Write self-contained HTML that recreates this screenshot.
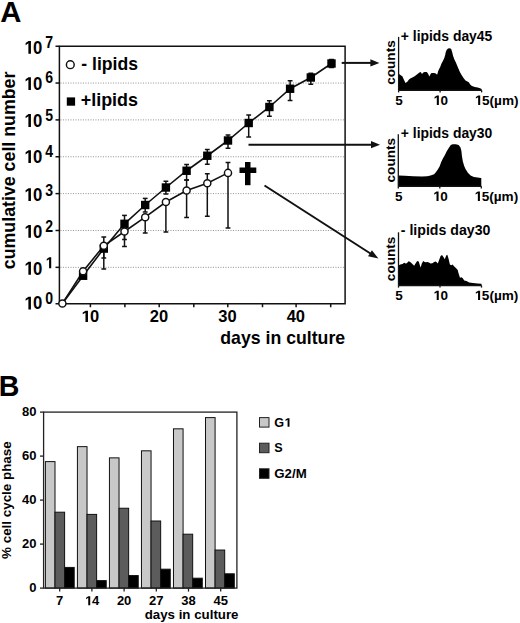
<!DOCTYPE html>
<html><head><meta charset="utf-8"><style>
html,body{margin:0;padding:0;background:#fff;overflow:hidden;width:520px;height:623px;}
svg{display:block;}
</style></head><body>
<svg width="520" height="623" viewBox="0 0 520 623">
<rect width="520" height="623" fill="#fff"/>
<text x="0.3" y="21.8" font-family="'Liberation Sans', sans-serif" font-weight="bold" font-size="29.3">A</text>
<line x1="60.4" y1="267.34" x2="344.1" y2="267.34" stroke="#9a9a9a" stroke-width="1" stroke-dasharray="1.1 1.4"/>
<line x1="60.4" y1="230.48" x2="344.1" y2="230.48" stroke="#9a9a9a" stroke-width="1" stroke-dasharray="1.1 1.4"/>
<line x1="60.4" y1="193.62" x2="344.1" y2="193.62" stroke="#9a9a9a" stroke-width="1" stroke-dasharray="1.1 1.4"/>
<line x1="60.4" y1="156.76" x2="344.1" y2="156.76" stroke="#9a9a9a" stroke-width="1" stroke-dasharray="1.1 1.4"/>
<line x1="60.4" y1="119.90" x2="344.1" y2="119.90" stroke="#9a9a9a" stroke-width="1" stroke-dasharray="1.1 1.4"/>
<line x1="60.4" y1="83.04" x2="344.1" y2="83.04" stroke="#9a9a9a" stroke-width="1" stroke-dasharray="1.1 1.4"/>
<rect x="59.4" y="46.25" width="285.70" height="257.50" fill="none" stroke="#111" stroke-width="1.5"/>
<line x1="55.5" y1="303.75" x2="59.4" y2="303.75" stroke="#111" stroke-width="1.5"/>
<g transform="translate(42.40 309.45) scale(0.9 1)"><text x="-20.69" y="0" font-family="'Liberation Sans', sans-serif" font-weight="bold" font-size="18.6"> 0</text><path transform="translate(-20.69 0) scale(0.00908 -0.00908)" d="M565,0L565,1160L225,950L225,1185L585,1409L875,1409L875,0Z"/></g>
<g transform="translate(45.20 303.65) scale(0.88 1)"><text x="0.00" y="0" font-family="'Liberation Sans', sans-serif" font-weight="bold" font-size="16.0">0</text></g>
<line x1="55.5" y1="267.34" x2="59.4" y2="267.34" stroke="#111" stroke-width="1.5"/>
<g transform="translate(42.40 274.64) scale(0.9 1)"><text x="-20.69" y="0" font-family="'Liberation Sans', sans-serif" font-weight="bold" font-size="18.6"> 0</text><path transform="translate(-20.69 0) scale(0.00908 -0.00908)" d="M565,0L565,1160L225,950L225,1185L585,1409L875,1409L875,0Z"/></g>
<g transform="translate(45.20 268.24) scale(0.88 1)"><text x="0.00" y="0" font-family="'Liberation Sans', sans-serif" font-weight="bold" font-size="16.0"> </text><path transform="translate(0.00 0) scale(0.00781 -0.00781)" d="M565,0L565,1160L225,950L225,1185L585,1409L875,1409L875,0Z"/></g>
<line x1="55.5" y1="230.48" x2="59.4" y2="230.48" stroke="#111" stroke-width="1.5"/>
<g transform="translate(42.40 237.68) scale(0.9 1)"><text x="-20.69" y="0" font-family="'Liberation Sans', sans-serif" font-weight="bold" font-size="18.6"> 0</text><path transform="translate(-20.69 0) scale(0.00908 -0.00908)" d="M565,0L565,1160L225,950L225,1185L585,1409L875,1409L875,0Z"/></g>
<g transform="translate(45.20 231.58) scale(0.88 1)"><text x="0.00" y="0" font-family="'Liberation Sans', sans-serif" font-weight="bold" font-size="16.0">2</text></g>
<line x1="55.5" y1="193.62" x2="59.4" y2="193.62" stroke="#111" stroke-width="1.5"/>
<g transform="translate(42.40 201.12) scale(0.9 1)"><text x="-20.69" y="0" font-family="'Liberation Sans', sans-serif" font-weight="bold" font-size="18.6"> 0</text><path transform="translate(-20.69 0) scale(0.00908 -0.00908)" d="M565,0L565,1160L225,950L225,1185L585,1409L875,1409L875,0Z"/></g>
<g transform="translate(45.20 195.62) scale(0.88 1)"><text x="0.00" y="0" font-family="'Liberation Sans', sans-serif" font-weight="bold" font-size="16.0">3</text></g>
<line x1="55.5" y1="156.76" x2="59.4" y2="156.76" stroke="#111" stroke-width="1.5"/>
<g transform="translate(42.40 163.06) scale(0.9 1)"><text x="-20.69" y="0" font-family="'Liberation Sans', sans-serif" font-weight="bold" font-size="18.6"> 0</text><path transform="translate(-20.69 0) scale(0.00908 -0.00908)" d="M565,0L565,1160L225,950L225,1185L585,1409L875,1409L875,0Z"/></g>
<g transform="translate(45.20 157.06) scale(0.88 1)"><text x="0.00" y="0" font-family="'Liberation Sans', sans-serif" font-weight="bold" font-size="16.0">4</text></g>
<line x1="55.5" y1="119.90" x2="59.4" y2="119.90" stroke="#111" stroke-width="1.5"/>
<g transform="translate(42.40 126.90) scale(0.9 1)"><text x="-20.69" y="0" font-family="'Liberation Sans', sans-serif" font-weight="bold" font-size="18.6"> 0</text><path transform="translate(-20.69 0) scale(0.00908 -0.00908)" d="M565,0L565,1160L225,950L225,1185L585,1409L875,1409L875,0Z"/></g>
<g transform="translate(45.20 121.20) scale(0.88 1)"><text x="0.00" y="0" font-family="'Liberation Sans', sans-serif" font-weight="bold" font-size="16.0">5</text></g>
<line x1="55.5" y1="83.04" x2="59.4" y2="83.04" stroke="#111" stroke-width="1.5"/>
<g transform="translate(42.40 90.04) scale(0.9 1)"><text x="-20.69" y="0" font-family="'Liberation Sans', sans-serif" font-weight="bold" font-size="18.6"> 0</text><path transform="translate(-20.69 0) scale(0.00908 -0.00908)" d="M565,0L565,1160L225,950L225,1185L585,1409L875,1409L875,0Z"/></g>
<g transform="translate(45.20 83.24) scale(0.88 1)"><text x="0.00" y="0" font-family="'Liberation Sans', sans-serif" font-weight="bold" font-size="16.0">6</text></g>
<line x1="55.5" y1="46.25" x2="59.4" y2="46.25" stroke="#111" stroke-width="1.5"/>
<g transform="translate(42.40 53.85) scale(0.9 1)"><text x="-20.69" y="0" font-family="'Liberation Sans', sans-serif" font-weight="bold" font-size="18.6"> 0</text><path transform="translate(-20.69 0) scale(0.00908 -0.00908)" d="M565,0L565,1160L225,950L225,1185L585,1409L875,1409L875,0Z"/></g>
<g transform="translate(45.20 48.45) scale(0.88 1)"><text x="0.00" y="0" font-family="'Liberation Sans', sans-serif" font-weight="bold" font-size="16.0">7</text></g>
<line x1="90.40" y1="303.75" x2="90.40" y2="307.25" stroke="#111" stroke-width="1.5"/>
<line x1="124.90" y1="303.75" x2="124.90" y2="307.25" stroke="#111" stroke-width="1.5"/>
<line x1="159.20" y1="303.75" x2="159.20" y2="307.25" stroke="#111" stroke-width="1.5"/>
<line x1="193.80" y1="303.75" x2="193.80" y2="307.25" stroke="#111" stroke-width="1.5"/>
<line x1="227.80" y1="303.75" x2="227.80" y2="307.25" stroke="#111" stroke-width="1.5"/>
<line x1="262.50" y1="303.75" x2="262.50" y2="307.25" stroke="#111" stroke-width="1.5"/>
<line x1="296.10" y1="303.75" x2="296.10" y2="307.25" stroke="#111" stroke-width="1.5"/>
<line x1="330.70" y1="303.75" x2="330.70" y2="307.25" stroke="#111" stroke-width="1.5"/>
<g transform="translate(90.10 322.00) scale(1.0 1)"><text x="-9.18" y="0" font-family="'Liberation Sans', sans-serif" font-weight="bold" font-size="16.5"> 0</text><path transform="translate(-9.18 0) scale(0.00806 -0.00806)" d="M565,0L565,1160L225,950L225,1185L585,1409L875,1409L875,0Z"/></g>
<g transform="translate(158.90 322.00) scale(1.0 1)"><text x="-9.18" y="0" font-family="'Liberation Sans', sans-serif" font-weight="bold" font-size="16.5">20</text></g>
<g transform="translate(227.50 322.00) scale(1.0 1)"><text x="-9.18" y="0" font-family="'Liberation Sans', sans-serif" font-weight="bold" font-size="16.5">30</text></g>
<g transform="translate(295.80 322.00) scale(1.0 1)"><text x="-9.18" y="0" font-family="'Liberation Sans', sans-serif" font-weight="bold" font-size="16.5">40</text></g>
<text x="282.7" y="344.2" font-family="'Liberation Sans', sans-serif" font-weight="bold" font-size="17.7" text-anchor="middle">days in culture</text>
<text transform="translate(14.6 170.4) rotate(-90)" font-family="'Liberation Sans', sans-serif" font-weight="bold" font-size="17.8" text-anchor="middle">cumulative cell number</text>
<line x1="103.80" y1="248.60" x2="103.80" y2="269.00" stroke="#111" stroke-width="1.5"/><line x1="101.40" y1="269.00" x2="106.20" y2="269.00" stroke="#111" stroke-width="1.5"/>
<line x1="124.50" y1="223.80" x2="124.50" y2="215.40" stroke="#111" stroke-width="1.5"/><line x1="122.10" y1="215.40" x2="126.90" y2="215.40" stroke="#111" stroke-width="1.5"/><line x1="124.50" y1="223.80" x2="124.50" y2="239.50" stroke="#111" stroke-width="1.5"/><line x1="122.10" y1="239.50" x2="126.90" y2="239.50" stroke="#111" stroke-width="1.5"/>
<line x1="145.20" y1="205.00" x2="145.20" y2="198.40" stroke="#111" stroke-width="1.5"/><line x1="142.80" y1="198.40" x2="147.60" y2="198.40" stroke="#111" stroke-width="1.5"/><line x1="145.20" y1="205.00" x2="145.20" y2="212.00" stroke="#111" stroke-width="1.5"/><line x1="142.80" y1="212.00" x2="147.60" y2="212.00" stroke="#111" stroke-width="1.5"/>
<line x1="165.90" y1="187.50" x2="165.90" y2="181.25" stroke="#111" stroke-width="1.5"/><line x1="163.50" y1="181.25" x2="168.30" y2="181.25" stroke="#111" stroke-width="1.5"/><line x1="165.90" y1="187.50" x2="165.90" y2="194.00" stroke="#111" stroke-width="1.5"/><line x1="163.50" y1="194.00" x2="168.30" y2="194.00" stroke="#111" stroke-width="1.5"/>
<line x1="186.60" y1="170.75" x2="186.60" y2="164.50" stroke="#111" stroke-width="1.5"/><line x1="184.20" y1="164.50" x2="189.00" y2="164.50" stroke="#111" stroke-width="1.5"/><line x1="186.60" y1="170.75" x2="186.60" y2="180.00" stroke="#111" stroke-width="1.5"/><line x1="184.20" y1="180.00" x2="189.00" y2="180.00" stroke="#111" stroke-width="1.5"/>
<line x1="207.30" y1="155.75" x2="207.30" y2="149.50" stroke="#111" stroke-width="1.5"/><line x1="204.90" y1="149.50" x2="209.70" y2="149.50" stroke="#111" stroke-width="1.5"/><line x1="207.30" y1="155.75" x2="207.30" y2="164.25" stroke="#111" stroke-width="1.5"/><line x1="204.90" y1="164.25" x2="209.70" y2="164.25" stroke="#111" stroke-width="1.5"/>
<line x1="228.00" y1="140.50" x2="228.00" y2="135.00" stroke="#111" stroke-width="1.5"/><line x1="225.60" y1="135.00" x2="230.40" y2="135.00" stroke="#111" stroke-width="1.5"/><line x1="228.00" y1="140.50" x2="228.00" y2="148.25" stroke="#111" stroke-width="1.5"/><line x1="225.60" y1="148.25" x2="230.40" y2="148.25" stroke="#111" stroke-width="1.5"/>
<line x1="248.70" y1="123.00" x2="248.70" y2="115.00" stroke="#111" stroke-width="1.5"/><line x1="246.30" y1="115.00" x2="251.10" y2="115.00" stroke="#111" stroke-width="1.5"/><line x1="248.70" y1="123.00" x2="248.70" y2="137.00" stroke="#111" stroke-width="1.5"/><line x1="246.30" y1="137.00" x2="251.10" y2="137.00" stroke="#111" stroke-width="1.5"/>
<line x1="269.40" y1="107.00" x2="269.40" y2="100.75" stroke="#111" stroke-width="1.5"/><line x1="267.00" y1="100.75" x2="271.80" y2="100.75" stroke="#111" stroke-width="1.5"/><line x1="269.40" y1="107.00" x2="269.40" y2="116.25" stroke="#111" stroke-width="1.5"/><line x1="267.00" y1="116.25" x2="271.80" y2="116.25" stroke="#111" stroke-width="1.5"/>
<line x1="290.10" y1="88.75" x2="290.10" y2="80.75" stroke="#111" stroke-width="1.5"/><line x1="287.70" y1="80.75" x2="292.50" y2="80.75" stroke="#111" stroke-width="1.5"/><line x1="290.10" y1="88.75" x2="290.10" y2="100.50" stroke="#111" stroke-width="1.5"/><line x1="287.70" y1="100.50" x2="292.50" y2="100.50" stroke="#111" stroke-width="1.5"/>
<line x1="310.80" y1="77.50" x2="310.80" y2="73.25" stroke="#111" stroke-width="1.5"/><line x1="308.40" y1="73.25" x2="313.20" y2="73.25" stroke="#111" stroke-width="1.5"/><line x1="310.80" y1="77.50" x2="310.80" y2="84.25" stroke="#111" stroke-width="1.5"/><line x1="308.40" y1="84.25" x2="313.20" y2="84.25" stroke="#111" stroke-width="1.5"/>
<line x1="331.50" y1="63.50" x2="331.50" y2="59.50" stroke="#111" stroke-width="1.5"/><line x1="329.10" y1="59.50" x2="333.90" y2="59.50" stroke="#111" stroke-width="1.5"/><line x1="331.50" y1="63.50" x2="331.50" y2="67.50" stroke="#111" stroke-width="1.5"/><line x1="329.10" y1="67.50" x2="333.90" y2="67.50" stroke="#111" stroke-width="1.5"/>
<line x1="103.80" y1="245.75" x2="103.80" y2="237.00" stroke="#111" stroke-width="1.5"/><line x1="101.40" y1="237.00" x2="106.20" y2="237.00" stroke="#111" stroke-width="1.5"/><line x1="103.80" y1="245.75" x2="103.80" y2="258.00" stroke="#111" stroke-width="1.5"/><line x1="101.40" y1="258.00" x2="106.20" y2="258.00" stroke="#111" stroke-width="1.5"/>
<line x1="124.50" y1="231.50" x2="124.50" y2="246.50" stroke="#111" stroke-width="1.5"/><line x1="122.10" y1="246.50" x2="126.90" y2="246.50" stroke="#111" stroke-width="1.5"/>
<line x1="145.20" y1="217.20" x2="145.20" y2="233.00" stroke="#111" stroke-width="1.5"/><line x1="142.80" y1="233.00" x2="147.60" y2="233.00" stroke="#111" stroke-width="1.5"/>
<line x1="165.90" y1="202.00" x2="165.90" y2="232.00" stroke="#111" stroke-width="1.5"/><line x1="163.50" y1="232.00" x2="168.30" y2="232.00" stroke="#111" stroke-width="1.5"/>
<line x1="186.60" y1="190.50" x2="186.60" y2="180.00" stroke="#111" stroke-width="1.5"/><line x1="184.20" y1="180.00" x2="189.00" y2="180.00" stroke="#111" stroke-width="1.5"/><line x1="186.60" y1="190.50" x2="186.60" y2="217.50" stroke="#111" stroke-width="1.5"/><line x1="184.20" y1="217.50" x2="189.00" y2="217.50" stroke="#111" stroke-width="1.5"/>
<line x1="207.30" y1="183.25" x2="207.30" y2="173.75" stroke="#111" stroke-width="1.5"/><line x1="204.90" y1="173.75" x2="209.70" y2="173.75" stroke="#111" stroke-width="1.5"/><line x1="207.30" y1="183.25" x2="207.30" y2="216.25" stroke="#111" stroke-width="1.5"/><line x1="204.90" y1="216.25" x2="209.70" y2="216.25" stroke="#111" stroke-width="1.5"/>
<line x1="228.00" y1="172.90" x2="228.00" y2="162.50" stroke="#111" stroke-width="1.5"/><line x1="225.60" y1="162.50" x2="230.40" y2="162.50" stroke="#111" stroke-width="1.5"/><line x1="228.00" y1="172.90" x2="228.00" y2="228.00" stroke="#111" stroke-width="1.5"/><line x1="225.60" y1="228.00" x2="230.40" y2="228.00" stroke="#111" stroke-width="1.5"/>
<polyline fill="none" stroke="#111" stroke-width="1.6" points="62.40,303.50 83.10,275.75 103.80,248.60 124.50,223.80 145.20,205.00 165.90,187.50 186.60,170.75 207.30,155.75 228.00,140.50 248.70,123.00 269.40,107.00 290.10,88.75 310.80,77.50 331.50,63.50"/>
<polyline fill="none" stroke="#111" stroke-width="1.6" points="62.40,303.50 83.10,271.25 103.80,245.75 124.50,231.50 145.20,217.20 165.90,202.00 186.60,190.50 207.30,183.25 228.00,172.90"/>
<rect x="78.90" y="271.55" width="8.4" height="8.4" fill="#000"/>
<rect x="99.60" y="244.40" width="8.4" height="8.4" fill="#000"/>
<rect x="120.30" y="219.60" width="8.4" height="8.4" fill="#000"/>
<rect x="141.00" y="200.80" width="8.4" height="8.4" fill="#000"/>
<rect x="161.70" y="183.30" width="8.4" height="8.4" fill="#000"/>
<rect x="182.40" y="166.55" width="8.4" height="8.4" fill="#000"/>
<rect x="203.10" y="151.55" width="8.4" height="8.4" fill="#000"/>
<rect x="223.80" y="136.30" width="8.4" height="8.4" fill="#000"/>
<rect x="244.50" y="118.80" width="8.4" height="8.4" fill="#000"/>
<rect x="265.20" y="102.80" width="8.4" height="8.4" fill="#000"/>
<rect x="285.90" y="84.55" width="8.4" height="8.4" fill="#000"/>
<rect x="306.60" y="73.30" width="8.4" height="8.4" fill="#000"/>
<rect x="327.30" y="59.30" width="8.4" height="8.4" fill="#000"/>
<circle cx="62.40" cy="303.50" r="3.55" fill="#fff" stroke="#111" stroke-width="1.45"/>
<circle cx="83.10" cy="271.25" r="3.55" fill="#fff" stroke="#111" stroke-width="1.45"/>
<circle cx="103.80" cy="245.75" r="3.55" fill="#fff" stroke="#111" stroke-width="1.45"/>
<circle cx="124.50" cy="231.50" r="3.55" fill="#fff" stroke="#111" stroke-width="1.45"/>
<circle cx="145.20" cy="217.20" r="3.55" fill="#fff" stroke="#111" stroke-width="1.45"/>
<circle cx="165.90" cy="202.00" r="3.55" fill="#fff" stroke="#111" stroke-width="1.45"/>
<circle cx="186.60" cy="190.50" r="3.55" fill="#fff" stroke="#111" stroke-width="1.45"/>
<circle cx="207.30" cy="183.25" r="3.55" fill="#fff" stroke="#111" stroke-width="1.45"/>
<circle cx="228.00" cy="172.90" r="3.55" fill="#fff" stroke="#111" stroke-width="1.45"/>
<circle cx="70.3" cy="64.7" r="3.9" fill="#fff" stroke="#111" stroke-width="1.45"/>
<text x="81.3" y="69.6" font-family="'Liberation Sans', sans-serif" font-weight="bold" font-size="17.6">- lipids</text>
<rect x="66.8" y="97.4" width="8.3" height="8.3" fill="#000"/>
<text x="80.8" y="106.4" font-family="'Liberation Sans', sans-serif" font-weight="bold" font-size="17.9">+lipids</text>
<rect x="245" y="162" width="5.5" height="23.2" fill="#000"/>
<rect x="239.5" y="167.5" width="16.8" height="5.5" fill="#000"/>
<line x1="341.7" y1="62.9" x2="371.40" y2="62.90" stroke="#111" stroke-width="2"/><polygon points="379.4,62.9 370.40,66.50 370.40,59.30" fill="#111"/>
<line x1="248.5" y1="144.7" x2="372.00" y2="144.70" stroke="#111" stroke-width="2"/><polygon points="380,144.7 371.00,148.30 371.00,141.10" fill="#111"/>
<line x1="264.5" y1="185.5" x2="370.83" y2="253.74" stroke="#111" stroke-width="2"/><polygon points="378.4,258.6 368.04,256.23 371.93,250.17" fill="#111"/>
<polygon fill="#000" points="398.60,90.20 399.00,73.90 400.80,75.20 402.50,76.50 403.80,79.50 405.50,83.00 407.30,81.70 409.00,79.50 410.70,78.20 412.90,77.30 415.00,76.00 417.20,74.30 419.40,72.60 420.70,72.10 422.00,73.90 423.30,72.60 424.60,71.90 426.70,71.90 428.00,73.40 429.30,76.50 430.60,73.90 431.50,73.00 434.10,73.00 435.80,73.40 437.10,74.70 438.40,70.50 439.50,68.20 440.20,67.10 441.50,63.40 442.90,61.10 444.30,57.90 445.20,55.10 445.70,52.30 446.60,50.00 448.00,48.60 449.90,48.20 451.20,49.10 452.20,52.30 453.10,56.00 454.50,59.70 455.90,62.50 457.20,65.70 458.60,68.90 460.00,72.20 461.90,75.40 463.70,78.20 465.50,80.50 467.40,81.40 468.80,82.30 470.20,84.60 472.00,86.00 474.80,86.90 477.60,87.40 479.40,87.90 481.20,88.80 481.70,89.70 481.60,89.70 481.60,90.20"/><line x1="398.6" y1="36.9" x2="398.6" y2="90.2" stroke="#111" stroke-width="1.3"/><line x1="398.6" y1="90.2" x2="481.6" y2="90.2" stroke="#111" stroke-width="1.5"/><line x1="398.60" y1="90.2" x2="398.60" y2="92.4" stroke="#111" stroke-width="1.3"/><line x1="440.10" y1="90.2" x2="440.10" y2="92.4" stroke="#111" stroke-width="1.3"/><line x1="481.60" y1="90.2" x2="481.60" y2="92.4" stroke="#111" stroke-width="1.3"/><text x="399.1" y="104.9" font-family="'Liberation Sans', sans-serif" font-weight="bold" font-size="13.5" text-anchor="middle">5</text><g transform="translate(440.60 104.90) scale(1.0 1)"><text x="-7.51" y="0" font-family="'Liberation Sans', sans-serif" font-weight="bold" font-size="13.5"> 0</text><path transform="translate(-7.51 0) scale(0.00659 -0.00659)" d="M565,0L565,1160L225,950L225,1185L585,1409L875,1409L875,0Z"/></g><g transform="translate(474.40 104.90) scale(1.0 1)"><text x="0.00" y="0" font-family="'Liberation Sans', sans-serif" font-weight="bold" font-size="13.6"> 5(µm)</text><path transform="translate(0.00 0) scale(0.00664 -0.00664)" d="M565,0L565,1160L225,950L225,1185L585,1409L875,1409L875,0Z"/></g><text transform="translate(394.6 62.55) rotate(-90)" font-family="'Liberation Sans', sans-serif" font-weight="bold" font-size="13.6" text-anchor="middle">counts</text><text x="400.8" y="40.8" font-family="'Liberation Sans', sans-serif" font-weight="bold" font-size="13.9">+ lipids day45</text>
<polygon fill="#000" points="398.30,186.20 398.60,175.50 404.70,175.70 413.30,176.20 422.00,176.50 427.20,176.20 430.60,175.50 434.10,174.20 436.00,171.90 437.80,169.50 439.70,166.30 441.10,162.20 442.90,158.50 444.80,155.20 446.60,151.50 448.90,147.80 450.80,145.10 452.60,144.20 455.90,144.20 458.60,145.10 460.50,147.40 461.40,151.10 461.90,155.70 462.80,161.20 464.20,165.90 465.50,169.10 467.90,172.80 470.60,175.50 473.90,176.90 477.60,177.40 480.80,177.90 481.30,177.90 481.30,186.20"/><line x1="398.3" y1="134.2" x2="398.3" y2="186.2" stroke="#111" stroke-width="1.3"/><line x1="398.3" y1="186.2" x2="481.3" y2="186.2" stroke="#111" stroke-width="1.5"/><line x1="398.30" y1="186.2" x2="398.30" y2="188.39999999999998" stroke="#111" stroke-width="1.3"/><line x1="439.80" y1="186.2" x2="439.80" y2="188.39999999999998" stroke="#111" stroke-width="1.3"/><line x1="481.30" y1="186.2" x2="481.30" y2="188.39999999999998" stroke="#111" stroke-width="1.3"/><text x="398.8" y="200.89999999999998" font-family="'Liberation Sans', sans-serif" font-weight="bold" font-size="13.5" text-anchor="middle">5</text><g transform="translate(440.30 200.90) scale(1.0 1)"><text x="-7.51" y="0" font-family="'Liberation Sans', sans-serif" font-weight="bold" font-size="13.5"> 0</text><path transform="translate(-7.51 0) scale(0.00659 -0.00659)" d="M565,0L565,1160L225,950L225,1185L585,1409L875,1409L875,0Z"/></g><g transform="translate(474.10 200.90) scale(1.0 1)"><text x="0.00" y="0" font-family="'Liberation Sans', sans-serif" font-weight="bold" font-size="13.6"> 5(µm)</text><path transform="translate(0.00 0) scale(0.00664 -0.00664)" d="M565,0L565,1160L225,950L225,1185L585,1409L875,1409L875,0Z"/></g><text transform="translate(394.6 160.20) rotate(-90)" font-family="'Liberation Sans', sans-serif" font-weight="bold" font-size="13.6" text-anchor="middle">counts</text><text x="400.8" y="137.9" font-family="'Liberation Sans', sans-serif" font-weight="bold" font-size="13.9">+ lipids day30</text>
<polygon fill="#000" points="398.50,285.40 399.00,265.30 400.30,264.50 402.50,263.90 404.20,262.70 405.50,263.40 406.80,263.20 408.60,261.30 410.30,261.90 411.60,263.20 412.90,264.50 414.20,265.80 415.50,263.60 417.20,261.00 418.70,261.50 419.80,264.90 420.70,267.50 421.80,263.60 423.30,261.00 424.60,261.90 425.90,262.30 427.60,261.90 429.30,262.70 430.60,263.60 432.40,263.20 434.10,261.90 435.80,261.50 436.90,262.50 437.80,263.50 439.20,259.80 440.60,256.10 442.00,255.00 443.40,257.00 444.80,259.30 446.20,255.60 447.30,254.70 448.50,258.40 449.90,264.40 451.20,265.30 452.60,264.60 454.00,266.20 455.90,267.90 457.70,269.90 458.60,273.60 460.00,277.80 461.40,277.30 462.80,278.20 464.20,280.50 466.50,281.00 469.20,282.40 472.90,283.00 477.60,283.60 481.20,283.80 481.50,283.80 481.50,285.40"/><line x1="398.5" y1="232.3" x2="398.5" y2="285.4" stroke="#111" stroke-width="1.3"/><line x1="398.5" y1="285.4" x2="481.5" y2="285.4" stroke="#111" stroke-width="1.5"/><line x1="398.50" y1="285.4" x2="398.50" y2="287.59999999999997" stroke="#111" stroke-width="1.3"/><line x1="440.00" y1="285.4" x2="440.00" y2="287.59999999999997" stroke="#111" stroke-width="1.3"/><line x1="481.50" y1="285.4" x2="481.50" y2="287.59999999999997" stroke="#111" stroke-width="1.3"/><text x="399.0" y="300.09999999999997" font-family="'Liberation Sans', sans-serif" font-weight="bold" font-size="13.5" text-anchor="middle">5</text><g transform="translate(440.50 300.10) scale(1.0 1)"><text x="-7.51" y="0" font-family="'Liberation Sans', sans-serif" font-weight="bold" font-size="13.5"> 0</text><path transform="translate(-7.51 0) scale(0.00659 -0.00659)" d="M565,0L565,1160L225,950L225,1185L585,1409L875,1409L875,0Z"/></g><g transform="translate(474.30 300.10) scale(1.0 1)"><text x="0.00" y="0" font-family="'Liberation Sans', sans-serif" font-weight="bold" font-size="13.6"> 5(µm)</text><path transform="translate(0.00 0) scale(0.00664 -0.00664)" d="M565,0L565,1160L225,950L225,1185L585,1409L875,1409L875,0Z"/></g><text transform="translate(394.6 258.85) rotate(-90)" font-family="'Liberation Sans', sans-serif" font-weight="bold" font-size="13.6" text-anchor="middle">counts</text><text x="400.8" y="235.4" font-family="'Liberation Sans', sans-serif" font-weight="bold" font-size="13.9" textLength="89.6" lengthAdjust="spacingAndGlyphs">- lipids day30</text>
<text x="-1" y="395.9" font-family="'Liberation Sans', sans-serif" font-weight="bold" font-size="28.6" transform="translate(-0.3 0)">B</text>
<rect x="45.40" y="461.60" width="9.6" height="126.50" fill="#c8c8c8" stroke="#111" stroke-width="1"/>
<rect x="55.00" y="512.20" width="9.6" height="75.90" fill="#5c5c5c" stroke="#111" stroke-width="1"/>
<rect x="64.60" y="567.42" width="9.6" height="20.68" fill="#000" stroke="#111" stroke-width="1"/>
<rect x="77.42" y="446.64" width="9.6" height="141.46" fill="#c8c8c8" stroke="#111" stroke-width="1"/>
<rect x="87.02" y="514.40" width="9.6" height="73.70" fill="#5c5c5c" stroke="#111" stroke-width="1"/>
<rect x="96.62" y="580.62" width="9.6" height="7.48" fill="#000" stroke="#111" stroke-width="1"/>
<rect x="109.44" y="457.86" width="9.6" height="130.24" fill="#c8c8c8" stroke="#111" stroke-width="1"/>
<rect x="119.04" y="508.24" width="9.6" height="79.86" fill="#5c5c5c" stroke="#111" stroke-width="1"/>
<rect x="128.64" y="575.56" width="9.6" height="12.54" fill="#000" stroke="#111" stroke-width="1"/>
<rect x="141.46" y="450.82" width="9.6" height="137.28" fill="#c8c8c8" stroke="#111" stroke-width="1"/>
<rect x="151.06" y="521.00" width="9.6" height="67.10" fill="#5c5c5c" stroke="#111" stroke-width="1"/>
<rect x="160.66" y="569.18" width="9.6" height="18.92" fill="#000" stroke="#111" stroke-width="1"/>
<rect x="173.48" y="428.82" width="9.6" height="159.28" fill="#c8c8c8" stroke="#111" stroke-width="1"/>
<rect x="183.08" y="534.20" width="9.6" height="53.90" fill="#5c5c5c" stroke="#111" stroke-width="1"/>
<rect x="192.68" y="578.20" width="9.6" height="9.90" fill="#000" stroke="#111" stroke-width="1"/>
<rect x="205.50" y="417.60" width="9.6" height="170.50" fill="#c8c8c8" stroke="#111" stroke-width="1"/>
<rect x="215.10" y="550.04" width="9.6" height="38.06" fill="#5c5c5c" stroke="#111" stroke-width="1"/>
<rect x="224.70" y="573.80" width="9.6" height="14.30" fill="#000" stroke="#111" stroke-width="1"/>
<rect x="43.6" y="412.1" width="193.30" height="176.00" fill="none" stroke="#222" stroke-width="1.3"/>
<line x1="40" y1="588.10" x2="43.6" y2="588.10" stroke="#222" stroke-width="1.3"/>
<text x="36.5" y="591.70" font-family="'Liberation Sans', sans-serif" font-weight="bold" font-size="13" text-anchor="end">0</text>
<line x1="40" y1="544.10" x2="43.6" y2="544.10" stroke="#222" stroke-width="1.3"/>
<text x="36.5" y="547.70" font-family="'Liberation Sans', sans-serif" font-weight="bold" font-size="13" text-anchor="end">20</text>
<line x1="40" y1="500.10" x2="43.6" y2="500.10" stroke="#222" stroke-width="1.3"/>
<text x="36.5" y="503.70" font-family="'Liberation Sans', sans-serif" font-weight="bold" font-size="13" text-anchor="end">40</text>
<line x1="40" y1="456.10" x2="43.6" y2="456.10" stroke="#222" stroke-width="1.3"/>
<text x="36.5" y="459.70" font-family="'Liberation Sans', sans-serif" font-weight="bold" font-size="13" text-anchor="end">60</text>
<line x1="40" y1="412.10" x2="43.6" y2="412.10" stroke="#222" stroke-width="1.3"/>
<text x="36.5" y="415.70" font-family="'Liberation Sans', sans-serif" font-weight="bold" font-size="13" text-anchor="end">80</text>
<line x1="59.70" y1="588.1" x2="59.70" y2="591.6" stroke="#222" stroke-width="1.3"/>
<g transform="translate(59.70 605.20) scale(1.0 1)"><text x="-3.61" y="0" font-family="'Liberation Sans', sans-serif" font-weight="bold" font-size="13">7</text></g>
<line x1="91.90" y1="588.1" x2="91.90" y2="591.6" stroke="#222" stroke-width="1.3"/>
<g transform="translate(91.90 605.20) scale(1.0 1)"><text x="-7.23" y="0" font-family="'Liberation Sans', sans-serif" font-weight="bold" font-size="13"> 4</text><path transform="translate(-7.23 0) scale(0.00635 -0.00635)" d="M565,0L565,1160L225,950L225,1185L585,1409L875,1409L875,0Z"/></g>
<line x1="124.10" y1="588.1" x2="124.10" y2="591.6" stroke="#222" stroke-width="1.3"/>
<g transform="translate(124.10 605.20) scale(1.0 1)"><text x="-7.23" y="0" font-family="'Liberation Sans', sans-serif" font-weight="bold" font-size="13">20</text></g>
<line x1="156.30" y1="588.1" x2="156.30" y2="591.6" stroke="#222" stroke-width="1.3"/>
<g transform="translate(156.30 605.20) scale(1.0 1)"><text x="-7.23" y="0" font-family="'Liberation Sans', sans-serif" font-weight="bold" font-size="13">27</text></g>
<line x1="188.50" y1="588.1" x2="188.50" y2="591.6" stroke="#222" stroke-width="1.3"/>
<g transform="translate(188.50 605.20) scale(1.0 1)"><text x="-7.23" y="0" font-family="'Liberation Sans', sans-serif" font-weight="bold" font-size="13">38</text></g>
<line x1="220.70" y1="588.1" x2="220.70" y2="591.6" stroke="#222" stroke-width="1.3"/>
<g transform="translate(220.70 605.20) scale(1.0 1)"><text x="-7.23" y="0" font-family="'Liberation Sans', sans-serif" font-weight="bold" font-size="13">45</text></g>
<text x="191.6" y="619.4" font-family="'Liberation Sans', sans-serif" font-weight="bold" font-size="13.3" text-anchor="middle">days in culture</text>
<text transform="translate(10.7 500.1) rotate(-90)" font-family="'Liberation Sans', sans-serif" font-weight="bold" font-size="13.4" text-anchor="middle">% cell cycle phase</text>
<rect x="259.5" y="417.60" width="9.5" height="9.5" fill="#c8c8c8" stroke="#222" stroke-width="1"/>
<g transform="translate(274.30 426.80) scale(1.0 1)"><text x="0.00" y="0" font-family="'Liberation Sans', sans-serif" font-weight="bold" font-size="12.6">G </text><path transform="translate(9.80 0) scale(0.00615 -0.00615)" d="M565,0L565,1160L225,950L225,1185L585,1409L875,1409L875,0Z"/></g>
<rect x="259.5" y="443.20" width="9.5" height="9.5" fill="#5c5c5c" stroke="#222" stroke-width="1"/>
<text x="274.3" y="452.40" font-family="'Liberation Sans', sans-serif" font-weight="bold" font-size="12.6">S</text>
<rect x="259.5" y="468.80" width="9.5" height="9.5" fill="#000" stroke="#222" stroke-width="1"/>
<text x="274.3" y="478.00" font-family="'Liberation Sans', sans-serif" font-weight="bold" font-size="12.6" textLength="32.4" lengthAdjust="spacingAndGlyphs">G2/M</text>
</svg>
</body></html>
